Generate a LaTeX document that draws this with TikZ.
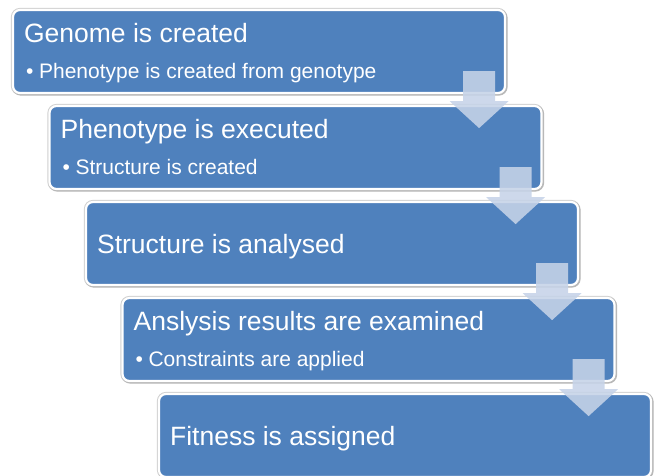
\documentclass[tikz,border=0pt]{standalone}
\usepackage{fontspec}
\setmainfont{Liberation Sans}
\usetikzlibrary{calc}
\definecolor{stepblue}{RGB}{79,129,189}
\definecolor{flowarrow}{RGB}{198,211,232}

\begin{document}
\begin{tikzpicture}[x=1pt,y=-1pt,
  stepbox/.style={draw=white, line width=2.2pt, fill=stepblue,
    rounded corners=7pt, minimum width=492pt, minimum height=83pt,
    inner sep=0pt,
    preaction={draw=black!18, line width=4.2pt},
    preaction={draw=black!28, line width=3.4pt,
      transform canvas={shift={(0.9pt,-0.9pt)}}}},
  steptitle/.style={anchor=base west, inner sep=0pt, text=white,
    font=\fontsize{26.5}{30}\selectfont},
  stepitem/.style={anchor=base west, inner sep=0pt, text=white,
    font=\fontsize{21}{24}\selectfont},
  flow/.style={fill=flowarrow, fill opacity=0.88}]

\useasboundingbox (0,0) rectangle (655,475);
\clip (0,0) rectangle (655,475);

% the five stages, stepped down and to the right
\node[stepbox] (b1) at (259,51.5) {};
\node[stepbox] (b2) at (295.5,147.5) {};
\node[stepbox] (b3) at (332,243.5) {};
\node[stepbox] (b4) at (368.5,339.5) {};
\node[stepbox] (b5) at (405,435.5) {};

% headings and bullet points
\node[steptitle] (t1) at ($(b1.north west)+(12,33.5)$) {Genome is created};
\node[stepitem] (i1) at ($(b1.north west)+(14,69.5)$)
  {\makebox[13pt][l]{\textbullet}Phenotype is created from genotype};
\node[steptitle] (t2) at ($(b2.north west)+(12,33.5)$) {Phenotype is executed};
\node[stepitem] (i2) at ($(b2.north west)+(14,69.5)$)
  {\makebox[13pt][l]{\textbullet}Structure is created};
\node[steptitle] (t3) at ($(b3.north west)+(12,52.5)$) {Structure is analysed};
\node[steptitle] (t4) at ($(b4.north west)+(12,33.5)$) {Anslysis results are examined};
\node[stepitem] (i4) at ($(b4.north west)+(14,69.5)$)
  {\makebox[13pt][l]{\textbullet}Constraints are applied};
\node[steptitle] (t5) at ($(b5.north west)+(12,52.5)$) {Fitness is assigned};

% block arrows linking each stage to the next
\foreach \s in {1,2,3,4}{
  \coordinate (a\s) at ($(b\s.south east)+(-27,-23)$);
  \fill[flow] (a\s) ++(-16,0) -- ++(32,0) -- ++(0,30) -- ++(13.5,0)
    -- ++(-29.5,27) -- ++(-29.5,-27) -- ++(13.5,0) -- cycle;
}
\end{tikzpicture}
\end{document}
